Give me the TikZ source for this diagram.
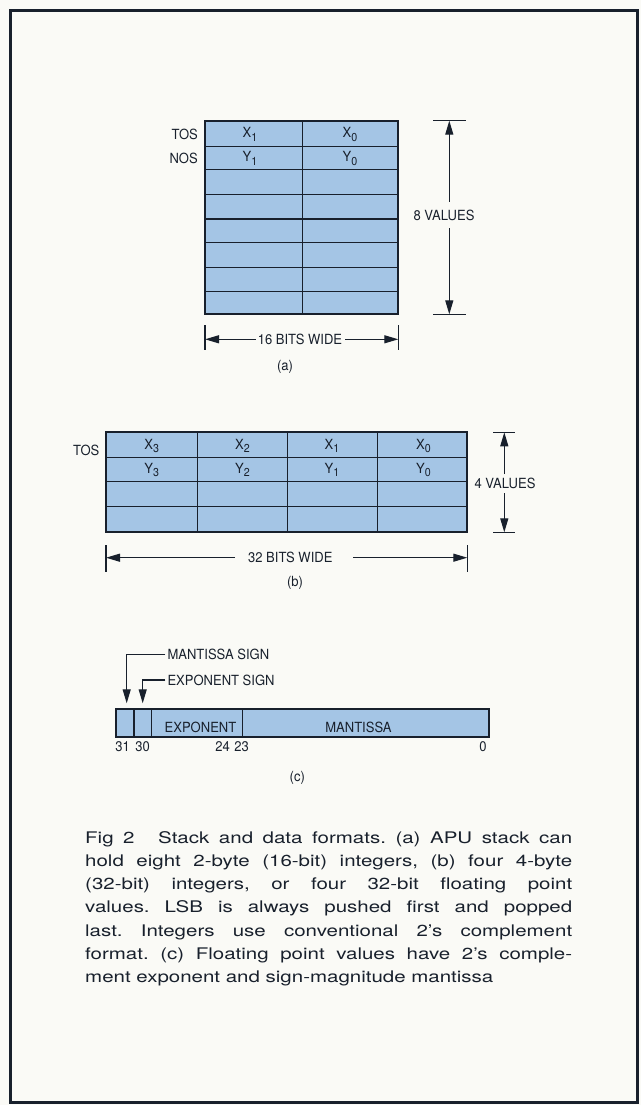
\documentclass[tikz,border=0pt]{standalone}
\usepackage{fontspec}
\setmainfont{TeX Gyre Heros}
\newfontfamily\lblfont{TeX Gyre Heros}[FakeStretch=0.93]
\newfontfamily\capfont{TeX Gyre Heros}[FakeStretch=1.28]
\usetikzlibrary{arrows.meta}
\definecolor{paper}{RGB}{250,250,246}
\definecolor{stackblue}{RGB}{164,197,229}
\definecolor{ink}{RGB}{24,32,44}
\newcommand{\lowidx}[1]{\raisebox{-3.5pt}{\fontsize{11.5}{11.5}\selectfont #1}}
\frenchspacing
\begin{document}
\begin{tikzpicture}[x=1pt,y=-1pt,
  lbl/.style={font=\lblfont\fontsize{14}{15}\selectfont, text=ink, inner sep=0pt},
  cell/.style={lbl, anchor=base},
  gridline/.style={draw=ink, line width=1.3pt},
  outline/.style={draw=ink, line width=2pt},
  dimline/.style={draw=ink, line width=1.2pt},
  dimarrow/.style={dimline, -{Triangle[length=14pt,width=8pt]}},
  capline/.style={font=\capfont\fontsize{16}{18}\selectfont, text=ink, inner sep=0pt, anchor=base west}
]
\useasboundingbox (0,0) rectangle (641,1105);
\fill[paper] (0,0) rectangle (641,1105);
\draw[ink, line width=3pt] (10,11) rectangle (637,1102);

% ---------------- (a) ----------------
\fill[stackblue] (205,120.7) rectangle (398.3,314.3);
\foreach \yy in {146.7,169.3,194.3,219,242.7,267.3,291.7}
  \draw[gridline] (205,\yy) -- (398.3,\yy);
\draw[gridline] (302.7,120.7) -- (302.7,314.3);
\draw[outline] (205,120.7) rectangle (398.3,314.3);

\node[lbl, anchor=east] (tosa) at (198,134.5) {TOS};
\node[lbl, anchor=east] (nosa) at (198,158.5) {NOS};
\node[cell] (ax1) at (250,138) {X\lowidx{1}};
\node[cell] (ax0) at (350,138) {X\lowidx{0}};
\node[cell] (ay1) at (250,161.5) {Y\lowidx{1}};
\node[cell] (ay0) at (350,161.5) {Y\lowidx{0}};

% vertical dimension (a)
\coordinate (vatop) at (449.3,120.7);
\coordinate (vabot) at (449.3,314.3);
\coordinate (vagapa) at (449.3,201.7);
\coordinate (vagapb) at (449.3,228);
\coordinate (vatl) at (433,120.7);
\coordinate (vatr) at (466,120.7);
\coordinate (vabl) at (433,314.3);
\coordinate (vabr) at (466,314.3);
\draw[dimline] (vatl) -- (vatr);
\draw[dimline] (vabl) -- (vabr);
\draw[dimarrow] (vagapa) -- (vatop);
\draw[dimarrow] (vagapb) -- (vabot);
\node[lbl] (val8) at (444,215) {8 VALUES};

% horizontal dimension (a)
\coordinate (haleft) at (205,339.3);
\coordinate (haright) at (398.3,339.3);
\coordinate (halt) at (205,325);
\coordinate (halb) at (205,350);
\coordinate (hart) at (398.3,325);
\coordinate (harb) at (398.3,350);
\draw[dimline] (halt) -- (halb);
\draw[dimline] (hart) -- (harb);
\node[lbl] (wida) at (300,339.3) {16 BITS WIDE};
\draw[dimarrow] ([xshift=-2pt]wida.west) -- (haleft);
\draw[dimarrow] ([xshift=3pt]wida.east) -- (haright);
\node[lbl] (capa) at (285,366.7) {(a)};

% ---------------- (b) ----------------
\fill[stackblue] (106,432.3) rectangle (467.3,532.3);
\foreach \yy in {457.3,481.7,506.7}
  \draw[gridline] (106,\yy) -- (467.3,\yy);
\foreach \xx in {197.3,287.7,377.3}
  \draw[gridline] (\xx,432.3) -- (\xx,532.3);
\draw[outline] (106,432.3) rectangle (467.3,532.3);

\node[lbl, anchor=east] (tosb) at (99.5,450) {TOS};
\node[cell] (bx3) at (151.7,449) {X\lowidx{3}};
\node[cell] (bx2) at (242.5,449) {X\lowidx{2}};
\node[cell] (bx1) at (332,449) {X\lowidx{1}};
\node[cell] (bx0) at (423.5,449) {X\lowidx{0}};
\node[cell] (by3) at (151.7,473) {Y\lowidx{3}};
\node[cell] (by2) at (242.5,473) {Y\lowidx{2}};
\node[cell] (by1) at (332,473) {Y\lowidx{1}};
\node[cell] (by0) at (423.5,473) {Y\lowidx{0}};

% vertical dimension (b)
\coordinate (vbtop) at (504.3,432.3);
\coordinate (vbbot) at (504.3,532.3);
\coordinate (vbtl) at (493,432.3);
\coordinate (vbtr) at (515,432.3);
\coordinate (vbbl) at (493,532.3);
\coordinate (vbbr) at (515,532.3);
\draw[dimline] (vbtl) -- (vbtr);
\draw[dimline] (vbbl) -- (vbbr);
\node[lbl] (val4) at (505,483.3) {4 VALUES};
\coordinate (vbgapa) at (504.3,474);
\coordinate (vbgapb) at (504.3,493);
\draw[dimarrow] (vbgapa) -- (vbtop);
\draw[dimarrow] (vbgapb) -- (vbbot);

% horizontal dimension (b)
\coordinate (hbleft) at (106,557.7);
\coordinate (hbright) at (467.3,557.7);
\coordinate (hblt) at (106,545);
\coordinate (hblb) at (106,571.7);
\coordinate (hbrt) at (467.3,545);
\coordinate (hbrb) at (467.3,571.7);
\draw[dimline] (hblt) -- (hblb);
\draw[dimline] (hbrt) -- (hbrb);
\node[lbl] (widb) at (290.3,557.7) {32 BITS WIDE};
\coordinate (hbgapa) at (235,557.7);
\coordinate (hbgapb) at (353.3,557.7);
\draw[dimarrow] (hbgapa) -- (hbleft);
\draw[dimarrow] (hbgapb) -- (hbright);
\node[lbl] (capb) at (295,583.3) {(b)};

% ---------------- (c) ----------------
\fill[stackblue] (116,709.3) rectangle (489.3,736.7);
\foreach \xx in {134,151.7,242.7}
  \draw[gridline] (\xx,709.3) -- (\xx,736.7);
\draw[outline] (116,709.3) rectangle (489.3,736.7);
\node[cell] (expo) at (200.5,732.5) {EXPONENT};
\node[cell] (mant) at (358.5,732.5) {MANTISSA};

\node[cell] (b31) at (122.7,751.7) {31};
\node[cell] (b30) at (142.5,751.7) {30};
\node[cell] (b24) at (222.5,751.7) {24};
\node[cell] (b23) at (241.7,751.7) {23};
\node[cell] (b0) at (483,751.7) {0};

\node[lbl, anchor=west] (msign) at (167.3,654.3) {MANTISSA SIGN};
\node[lbl, anchor=west] (esign) at (167.3,680) {EXPONENT SIGN};
\coordinate (mtip) at (126.7,703.3);
\coordinate (etip) at (142.7,703.3);
\draw[dimarrow] ([xshift=-2pt]msign.west) -| (mtip);
\draw[dimarrow] ([xshift=-2pt]esign.west) -| (etip);
\node[lbl] (capc) at (297.3,778.3) {(c)};

% ---------------- caption ----------------
\node[capline] (cl1) at (85,843.3) {\makebox[487pt][s]{Fig 2\hspace{14pt} Stack and data formats. (a) APU stack can}};
\node[capline] (cl2) at (85,866.5) {\makebox[487pt][s]{hold eight 2-byte (16-bit) integers, (b) four 4-byte}};
\node[capline] (cl3) at (85,889.7) {\makebox[487pt][s]{(32-bit) integers, or four 32-bit floating point}};
\node[capline] (cl4) at (85,912.9) {\makebox[487pt][s]{values. LSB is always pushed first and popped}};
\node[capline] (cl5) at (85,936.1) {\makebox[487pt][s]{last. Integers use conventional 2’s complement}};
\node[capline] (cl6) at (85,959.3) {\makebox[487pt][s]{format. (c) Floating point values have 2’s comple-}};
\node[capline] (cl7) at (85,982.5) {ment exponent and sign-magnitude mantissa};
\end{tikzpicture}
\end{document}
